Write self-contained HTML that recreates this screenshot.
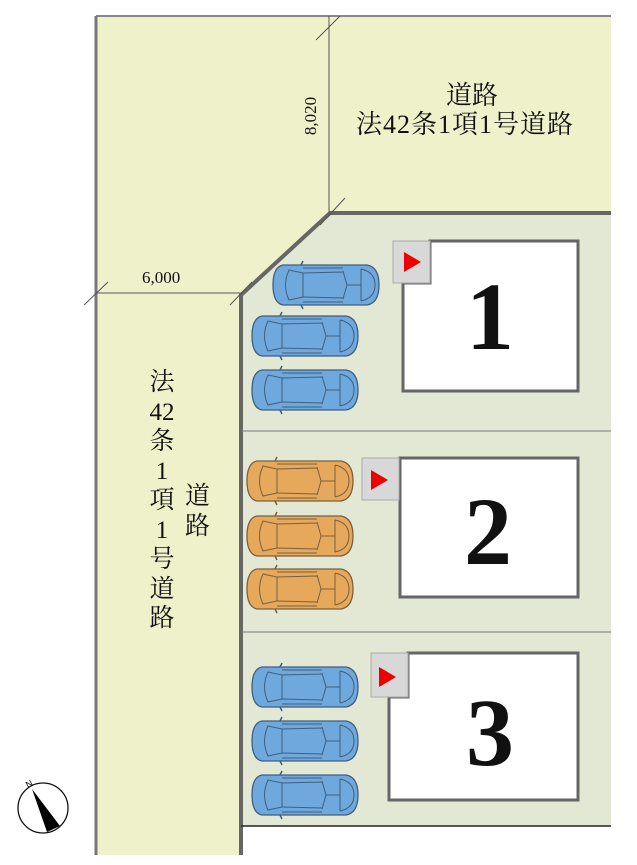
<!DOCTYPE html>
<html><head><meta charset="utf-8"><style>
body{margin:0;background:#fff;width:637px;height:865px;overflow:hidden;position:relative;font-family:"Liberation Serif","Noto Serif CJK SC",serif;}
.t{position:absolute;color:#111;}
</style></head><body>
<svg width="637" height="865" style="position:absolute;left:0;top:0">
<defs>
<g id="car">
<path d="M10,1 H94 Q106,3 106,21 Q106,39 94,41 H10 Q0,39 0,21 Q0,3 10,1 Z" fill="#6fa8dc" stroke="#3f5f80" stroke-width="1.3"/>
<path d="M16,6 L30,9 V33 L16,36 Q9,21 16,6 Z" fill="none" stroke="#3f5f80" stroke-width="1"/>
<path d="M30,9 L70,8 M30,33 L70,34 M70,7 L74,21 L70,35 M74,21 H88 M88,5 V37 M88,5 Q102,8 102,21 Q102,34 88,37 M30,4 H70 M30,38 H70" fill="none" stroke="#3f5f80" stroke-width="1"/>
<path d="M28,1 L30,-3 M28,41 L30,45" stroke="#3f5f80" stroke-width="1.5"/>
</g>
<g id="carO">
<path d="M10,1 H94 Q106,3 106,21 Q106,39 94,41 H10 Q0,39 0,21 Q0,3 10,1 Z" fill="#e6a85a" stroke="#7a6040" stroke-width="1.3"/>
<path d="M16,6 L30,9 V33 L16,36 Q9,21 16,6 Z" fill="none" stroke="#7a6040" stroke-width="1"/>
<path d="M30,9 L70,8 M30,33 L70,34 M70,7 L74,21 L70,35 M74,21 H88 M88,5 V37 M88,5 Q102,8 102,21 Q102,34 88,37 M30,4 H70 M30,38 H70" fill="none" stroke="#7a6040" stroke-width="1"/>
<path d="M28,1 L30,-3 M28,41 L30,45" stroke="#7a6040" stroke-width="1.5"/>
</g>
</defs>
<rect x="96" y="16" width="515" height="197" fill="#eff1cb"/>
<rect x="96" y="16" width="145" height="839" fill="#eff1cb"/>
<polygon points="240,212 331,212 240,296" fill="#eff1cb"/>
<line x1="96" y1="16" x2="611" y2="16" stroke="#888" stroke-width="2"/>
<line x1="96" y1="16" x2="96" y2="855" stroke="#777" stroke-width="3"/>
<polygon points="330,213 611,213 611,826 241,826 241,295" fill="#e3e8d5"/>
<polyline points="611,213 330,213 241,295 241,855" fill="none" stroke="#666" stroke-width="4"/>
<line x1="241" y1="826" x2="611" y2="826" stroke="#222" stroke-width="1.5"/>
<line x1="241" y1="431" x2="611" y2="431" stroke="#777" stroke-width="1"/>
<line x1="241" y1="632" x2="611" y2="632" stroke="#777" stroke-width="1"/>
<line x1="329" y1="16" x2="329" y2="213" stroke="#555" stroke-width="1"/>
<line x1="316" y1="40" x2="340" y2="16" stroke="#555" stroke-width="1"/>
<line x1="320" y1="225" x2="345" y2="198" stroke="#555" stroke-width="1"/>
<line x1="96" y1="293" x2="241" y2="293" stroke="#555" stroke-width="1"/>
<line x1="84" y1="305" x2="108" y2="282" stroke="#555" stroke-width="1"/>
<line x1="230" y1="305" x2="252" y2="282" stroke="#555" stroke-width="1"/>
<polygon points="430,241 578,241 578,391 403,391 403,283 430,283" fill="#fff" stroke="#666" stroke-width="3"/>
<rect x="393" y="241" width="37" height="42" fill="#d8d8d8" stroke="#aaa"/>
<polygon points="404,252 421,262 404,272" fill="#ee0000"/>
<rect x="400" y="458" width="178" height="139" fill="#fff" stroke="#666" stroke-width="3"/>
<rect x="362" y="458" width="37" height="42" fill="#d8d8d8" stroke="#aaa"/>
<polygon points="371,470 388,480 371,490" fill="#ee0000"/>
<polygon points="408,653 578,653 578,800 389,800 389,697 408,697" fill="#fff" stroke="#666" stroke-width="3"/>
<rect x="371" y="653" width="37" height="44" fill="#d8d8d8" stroke="#aaa"/>
<polygon points="379,667 396,677 379,687" fill="#ee0000"/>
<use href="#car" x="273" y="264"/>
<use href="#car" x="252" y="315"/>
<use href="#car" x="252" y="369"/>
<use href="#carO" x="247" y="460"/>
<use href="#carO" x="247" y="515"/>
<use href="#carO" x="247" y="568"/>
<use href="#car" x="252" y="666"/>
<use href="#car" x="252" y="720"/>
<use href="#car" x="252" y="774"/>
<circle cx="43" cy="808" r="25" fill="#fff" stroke="#111" stroke-width="1.3"/>
<polygon points="32,789 60,826 47,832" fill="#000"/>
<text x="26" y="787" font-size="9" font-family="Liberation Sans" transform="rotate(-30 29 784)">N</text>
</svg>
<div class="t" style="left:446px;top:75px;font-size:26px">道路</div>
<div class="t" style="left:356px;top:104px;font-size:26px;letter-spacing:1px">法42条1項1号道路</div>
<div class="t" style="left:286px;top:106px;font-size:17px;transform:rotate(-90deg);width:50px;text-align:center">8,020</div>
<div class="t" style="left:142px;top:268px;font-size:17px">6,000</div>
<div class="t" style="left:146px;top:368px;font-size:25px;line-height:29.5px;width:32px;text-align:center">法<br>42<br>条<br>1<br>項<br>1<br>号<br>道<br>路</div>
<div class="t" style="left:185px;top:482px;font-size:25px;line-height:30px">道<br>路</div>
<div class="t" style="left:466px;top:262px;font-size:96px;font-weight:bold;line-height:110px">1</div>
<div class="t" style="left:464px;top:477px;font-size:96px;font-weight:bold;line-height:110px">2</div>
<div class="t" style="left:466px;top:678px;font-size:96px;font-weight:bold;line-height:110px">3</div>
</body></html>
